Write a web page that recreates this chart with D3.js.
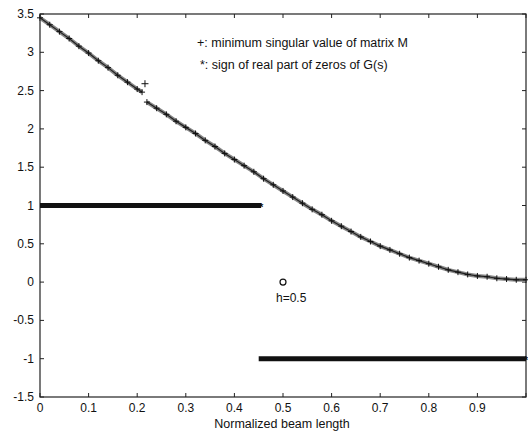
<!DOCTYPE html>
<html>
<head>
<script src="https://d3js.org/d3.v7.min.js"></script>
<style>
body { margin:0; background:#fff; }
svg text { font-family: "Liberation Sans", Arial, sans-serif; fill:#111; }
</style>
</head>
<body>
<div id="container"></div>
<script>

// minimum singular value of matrix M
var beamX = [0,0.02,0.04,0.06,0.08,0.10,0.12,0.14,0.16,0.18,0.20,0.21,
             0.22,0.24,0.26,0.28,0.30,0.32,0.34,0.36,0.38,0.40,0.42,0.44,0.46,0.48,
             0.50,0.52,0.54,0.56,0.58,0.60,0.62,0.64,0.66,0.68,0.70,0.72,0.74,0.76,
             0.78,0.80,0.82,0.84,0.86,0.88,0.90,0.92,0.94,0.96,0.98,1.00];
var singVal = [3.45,3.36,3.27,3.18,3.08,2.99,2.89,2.80,2.70,2.61,2.52,2.48,
               2.35,2.27,2.19,2.10,2.02,1.94,1.85,1.77,1.68,1.60,1.52,1.44,1.35,1.27,
               1.19,1.11,1.03,0.95,0.88,0.80,0.73,0.66,0.59,0.53,0.47,0.42,0.37,0.32,
               0.28,0.24,0.20,0.16,0.13,0.10,0.08,0.07,0.05,0.04,0.03,0.03];
// the one stray "+" above the jump
var strayPoint = [0.216, 2.59];

// sign of real part of zeros of G(s)
var signStart = [0, 0.45];
var signEnd = [0.455, 1.0];
var signVal = [1, -1];

var circlePoint = [0.5, 0];

var xTicks = [0,0.1,0.2,0.3,0.4,0.5,0.6,0.7,0.8,0.9];
var yTicks = [-1.5,-1,-0.5,0,0.5,1,1.5,2,2.5,3,3.5];

var W = 528, H = 431;
var svg = d3.select("#container").append("svg")
    .attr("width", W).attr("height", H);

var x = d3.scaleLinear().domain([0, 1]).range([40, 526]);
var y = d3.scaleLinear().domain([-1.5, 3.5]).range([397, 14]);

// box
svg.append("rect")
  .attr("x", x(0)).attr("y", y(3.5))
  .attr("width", x(1) - x(0)).attr("height", y(-1.5) - y(3.5))
  .attr("fill", "none").attr("stroke", "#222").attr("stroke-width", 1.2);

// inward ticks on all sides
var tk = 4;
xTicks.concat([1]).forEach(function(t) {
  svg.append("line").attr("x1", x(t)).attr("x2", x(t)).attr("y1", y(-1.5)).attr("y2", y(-1.5) - tk).attr("stroke", "#222");
  svg.append("line").attr("x1", x(t)).attr("x2", x(t)).attr("y1", y(3.5)).attr("y2", y(3.5) + tk).attr("stroke", "#222");
});
yTicks.forEach(function(t) {
  svg.append("line").attr("x1", x(0)).attr("x2", x(0) + tk).attr("y1", y(t)).attr("y2", y(t)).attr("stroke", "#222");
  svg.append("line").attr("x1", x(1)).attr("x2", x(1) - tk).attr("y1", y(t)).attr("y2", y(t)).attr("stroke", "#222");
});

svg.selectAll(".xlab").data(xTicks).enter().append("text")
  .attr("x", function(d) { return x(d); })
  .attr("y", 412)
  .attr("text-anchor", "middle")
  .style("font-size", "12px")
  .text(function(d) { return d; });

svg.selectAll(".ylab").data(yTicks).enter().append("text")
  .attr("x", 34)
  .attr("y", function(d) { return y(d) + 4; })
  .attr("text-anchor", "end")
  .style("font-size", "12px")
  .text(function(d) { return d < 0 ? "-" + Math.abs(d) : d; });

svg.append("text")
  .attr("x", 282).attr("y", 428)
  .attr("text-anchor", "middle")
  .style("font-size", "12.5px")
  .text("Normalized beam length");

// sign bands
signVal.forEach(function(v, i) {
  svg.append("line")
    .attr("x1", x(signStart[i])).attr("x2", x(signEnd[i]))
    .attr("y1", y(v)).attr("y2", y(v))
    .attr("stroke", "#111").attr("stroke-width", 5);
  svg.append("text")
    .attr("x", x(signEnd[i])).attr("y", y(v) + 5)
    .attr("text-anchor", "middle")
    .style("font-size", "11px").style("font-weight", "bold")
    .text("*");
});

// singular value curve
var pts = beamX.map(function(d, i) { return [d, singVal[i]]; });
var seg1 = pts.filter(function(p) { return p[0] <= 0.21; });
var seg2 = pts.filter(function(p) { return p[0] >= 0.22; });
var line = d3.line().x(function(p) { return x(p[0]); }).y(function(p) { return y(p[1]); });
[seg1, seg2].forEach(function(s) {
  svg.append("path").attr("d", line(s))
    .attr("fill", "none").attr("stroke", "#888").attr("stroke-width", 4);
  svg.append("path").attr("d", line(s))
    .attr("fill", "none").attr("stroke", "#222").attr("stroke-width", 1.2);
});

function plusMark(px, py, s) {
  svg.append("path")
    .attr("d", "M" + (px - s) + "," + py + "H" + (px + s) + "M" + px + "," + (py - s) + "V" + (py + s))
    .attr("stroke", "#111").attr("stroke-width", 1).attr("fill", "none");
}
pts.forEach(function(p) { plusMark(x(p[0]), y(p[1]), 3); });
plusMark(x(strayPoint[0]), y(strayPoint[1]), 3.5);

// circle marker
svg.append("circle")
  .attr("cx", x(circlePoint[0])).attr("cy", y(circlePoint[1]))
  .attr("r", 3).attr("fill", "none").attr("stroke", "#111").attr("stroke-width", 1.2);

svg.append("text").attr("x", 276).attr("y", 302).style("font-size", "12px").text("h=0.5");

svg.append("text").attr("x", 197).attr("y", 47).style("font-size", "12.5px")
  .text("+: minimum singular value of matrix M");
svg.append("text").attr("x", 200).attr("y", 69).style("font-size", "12.5px")
  .text("*: sign of real part of zeros of G(s)");

</script>
</body>
</html>
